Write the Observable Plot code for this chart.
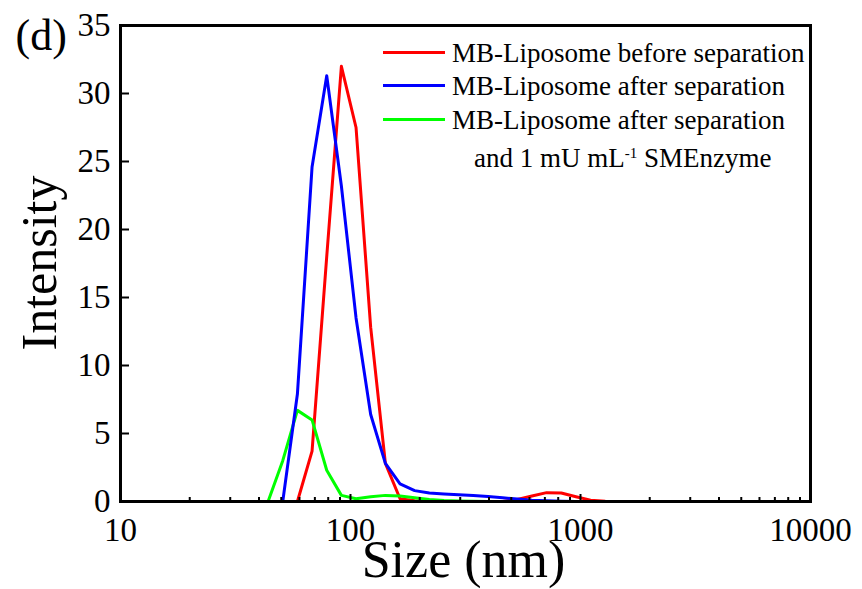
<!DOCTYPE html>
<html>
<head>
<meta charset="utf-8">
<script src="https://cdn.jsdelivr.net/npm/d3@7"></script>
<script src="https://cdn.jsdelivr.net/npm/@observablehq/plot@0.6"></script>
<style>
  html, body { margin: 0; padding: 0; background: #fff; }
  #wrap { position: relative; width: 862px; height: 589px; font-family: "Liberation Serif", serif; }
  .row { position: absolute; font-family: "Liberation Serif", serif; font-size: 27px; line-height: 34px; white-space: nowrap; color: #000; }
  .sw { position: absolute; height: 3px; width: 62px; }
  #ylab { position: absolute; left: 39px; top: 263px; font-family: "Liberation Serif", serif; font-size: 50px; line-height: 1; white-space: nowrap; transform: translate(-50%, -50%) rotate(-90deg); color: #000; }
</style>
</head>
<body>
<div id="wrap"></div>
<script>
// Particle size bins (nm)
const sizes = [10.10, 11.70, 13.54, 15.69, 18.17, 21.04, 24.36, 28.21, 32.67, 37.84,
  43.82, 50.75, 58.77, 68.06, 78.82, 91.28, 105.7, 122.4, 141.8, 164.2,
  190.1, 220.2, 255.0, 295.3, 342.0, 396.1, 458.7, 531.2, 615.1, 712.4,
  825.0, 955.4, 1106, 1281, 1484, 1718, 1990, 2305, 2669, 3091,
  3580, 4145, 4801, 5560, 6439, 7456, 8635];

// Intensity (%) per series
const beforeSep = [0, 0, 0, 0, 0, 0, 0, 0, 0, 0,
  0, 0, 0, 3.7, 18, 32.0, 27.5, 12.8, 2.8, 0.2,
  0.05, 0, 0, 0, 0, 0, 0, 0.15, 0.4, 0.65,
  0.62, 0.35, 0.1, 0.02, 0, 0, 0, 0, 0, 0,
  0, 0, 0, 0, 0, 0, 0];
const afterSep = [0, 0, 0, 0, 0, 0, 0, 0, 0, 0,
  0, 0, 7.9, 24.6, 31.3, 23.2, 13.5, 6.4, 2.8, 1.3,
  0.8, 0.62, 0.55, 0.5, 0.44, 0.36, 0.27, 0.18, 0.1, 0.05,
  0.02, 0, 0, 0, 0, 0, 0, 0, 0, 0,
  0, 0, 0, 0, 0, 0, 0];
const afterEnzyme = [0, 0, 0, 0, 0, 0, 0, 0, 0, 0,
  0, 3.0, 6.7, 6.0, 2.3, 0.45, 0.2, 0.35, 0.45, 0.4,
  0.28, 0.15, 0.08, 0.04, 0.02, 0, 0, 0, 0, 0,
  0, 0, 0, 0, 0, 0, 0, 0, 0, 0,
  0, 0, 0, 0, 0, 0, 0];

const seriesNames = ["MB-Liposome before separation", "MB-Liposome after separation", "MB-Liposome after separation"];
const seriesColors = ["#ff0000", "#0000ff", "#00ff00"];

const xMajor = [10, 100, 1000, 10000];
const xMinor = [20, 30, 40, 50, 60, 70, 80, 90, 200, 300, 400, 500, 600, 700, 800, 900, 2000, 3000, 4000, 5000, 6000, 7000, 8000, 9000];
const yTicks = [0, 5, 10, 15, 20, 25, 30, 35];

const mk = (vals) => sizes.map((s, i) => ({size: s, value: vals[i]}));
const dBefore = mk(beforeSep), dAfter = mk(afterSep), dEnzyme = mk(afterEnzyme);

const font = '"Liberation Serif", serif';

const chart = Plot.plot({
  width: 862,
  height: 589,
  marginLeft: 120,
  marginRight: 52,
  marginTop: 25,
  marginBottom: 88,
  x: {type: "log", domain: [10, 10000]},
  y: {domain: [0, 35]},
  style: {fontFamily: font, background: "#fff", color: "#000"},
  marks: [
    Plot.line(dBefore, {x: "size", y: "value", stroke: seriesColors[0], strokeWidth: 3}),
    Plot.line(dEnzyme, {x: "size", y: "value", stroke: seriesColors[2], strokeWidth: 3}),
    Plot.line(dAfter, {x: "size", y: "value", stroke: seriesColors[1], strokeWidth: 3}),
    Plot.axisX({ticks: xMinor, tickSize: -4, strokeWidth: 2, tickFormat: () => "", label: null}),
    Plot.axisX({ticks: xMajor, tickSize: -7, strokeWidth: 2, tickFormat: () => "", label: null}),
    Plot.axisX({ticks: xMajor, tickSize: 0, tickPadding: 16, fontSize: 33, fontFamily: font, tickFormat: d3.format("d"), label: null}),
    Plot.axisY({ticks: yTicks, tickSize: -9, strokeWidth: 2, tickFormat: () => "", label: null}),
    Plot.axisY({ticks: yTicks, tickSize: 0, tickPadding: 10, fontSize: 33, fontFamily: font, label: null}),
    Plot.frame({stroke: "#000", strokeWidth: 3}),
    Plot.text(["Size (nm)"], {text: d => d, frameAnchor: "bottom", dx: -2, dy: 75, fontSize: 52, fontFamily: font}),
    Plot.text(["(d)"], {text: d => d, frameAnchor: "top-left", textAnchor: "start", dx: -105, dy: -7, fontSize: 44, fontFamily: font})
  ]
});

const wrap = document.getElementById("wrap");
wrap.appendChild(chart);

const ylab = document.createElement("div");
ylab.id = "ylab";
ylab.textContent = "Intensity";
wrap.appendChild(ylab);

// Legend overlay
const legendRows = [
  {label: seriesNames[0], color: seriesColors[0], lineY: 52, top: 36},
  {label: seriesNames[1], color: seriesColors[1], lineY: 85, top: 69},
  {label: seriesNames[2], color: seriesColors[2], lineY: 119, top: 103}
];
legendRows.forEach(r => {
  const sw = document.createElement("div");
  sw.className = "sw";
  sw.style.left = "383px";
  sw.style.top = (r.lineY - 1.5) + "px";
  sw.style.background = r.color;
  wrap.appendChild(sw);
  const t = document.createElement("div");
  t.className = "row";
  t.style.left = "452px";
  t.style.top = r.top + "px";
  t.textContent = r.label;
  wrap.appendChild(t);
});
const last = document.createElement("div");
last.className = "row";
last.style.left = "474px";
last.style.top = "141px";
last.innerHTML = 'and 1 mU mL<sup style="font-size:15px;vertical-align:9px;line-height:0">-1</sup> SMEnzyme';
wrap.appendChild(last);
</script>
</body>
</html>
